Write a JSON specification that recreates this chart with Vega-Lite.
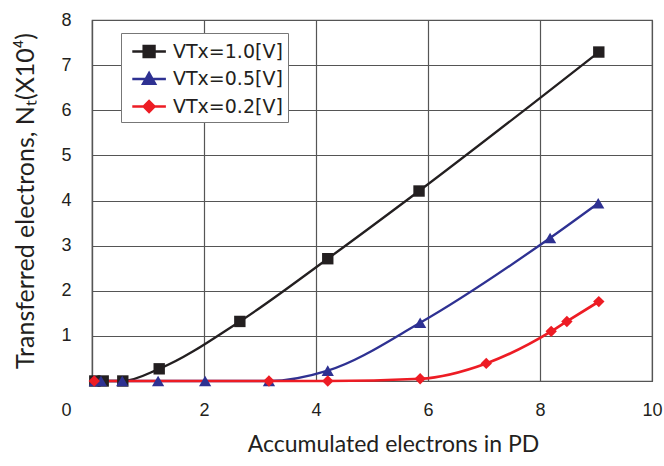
{
  "$schema": "https://vega.github.io/schema/vega-lite/v6.json",
  "width": 560,
  "height": 361,
  "autosize": "none",
  "padding": {"left": 92, "top": 20, "right": 12, "bottom": 85},
  "background": "white",
  "config": {
    "view": {"stroke": "#555555", "strokeWidth": 1.2},
    "axis": {
      "labelFont": "Liberation Sans",
      "labelFontSize": 18,
      "labelColor": "#231f20",
      "labelFlush": false,
      "titleFont": "Lato",
      "titleFontSize": 23,
      "titleFontWeight": "normal",
      "titleColor": "#231f20",
      "gridColor": "#555555",
      "gridOpacity": 1,
      "gridWidth": 1.2,
      "ticks": false,
      "domainColor": "#555555",
      "domainWidth": 1.2
    }
  },
  "data": {
    "values": [
      {"series": "VTx=1.0[V]", "x": 0.05, "y": 0},
      {"series": "VTx=1.0[V]", "x": 0.2, "y": 0},
      {"series": "VTx=1.0[V]", "x": 0.55, "y": 0},
      {"series": "VTx=1.0[V]", "x": 1.2, "y": 0.27},
      {"series": "VTx=1.0[V]", "x": 2.64, "y": 1.32},
      {"series": "VTx=1.0[V]", "x": 4.21, "y": 2.71},
      {"series": "VTx=1.0[V]", "x": 5.84, "y": 4.21},
      {"series": "VTx=1.0[V]", "x": 9.05, "y": 7.29},
      {"series": "VTx=0.5[V]", "x": 0.05, "y": 0},
      {"series": "VTx=0.5[V]", "x": 0.16, "y": 0},
      {"series": "VTx=0.5[V]", "x": 0.54, "y": 0},
      {"series": "VTx=0.5[V]", "x": 1.18, "y": 0},
      {"series": "VTx=0.5[V]", "x": 2.02, "y": 0},
      {"series": "VTx=0.5[V]", "x": 3.16, "y": 0},
      {"series": "VTx=0.5[V]", "x": 4.21, "y": 0.23},
      {"series": "VTx=0.5[V]", "x": 5.86, "y": 1.29},
      {"series": "VTx=0.5[V]", "x": 8.18, "y": 3.17},
      {"series": "VTx=0.5[V]", "x": 9.04, "y": 3.94},
      {"series": "VTx=0.2[V]", "x": 0.04, "y": 0},
      {"series": "VTx=0.2[V]", "x": 3.16, "y": 0},
      {"series": "VTx=0.2[V]", "x": 4.21, "y": 0},
      {"series": "VTx=0.2[V]", "x": 5.86, "y": 0.05},
      {"series": "VTx=0.2[V]", "x": 7.04, "y": 0.39},
      {"series": "VTx=0.2[V]", "x": 8.2, "y": 1.1},
      {"series": "VTx=0.2[V]", "x": 8.48, "y": 1.32},
      {"series": "VTx=0.2[V]", "x": 9.05, "y": 1.76}
    ]
  },
  "encoding": {
    "x": {
      "field": "x", "type": "quantitative",
      "scale": {"domain": [0, 10], "nice": false},
      "axis": {
        "values": [0, 2, 4, 6, 8, 10],
        "grid": true,
        "domain": false,
        "labelPadding": 20,
        "labelExpr": "datum.value == 0 ? '' : datum.label",
        "title": "Accumulated electrons in PD",
        "titlePadding": 14,
        "titleX": 301,
        "titleAnchor": "middle"
      }
    },
    "y": {
      "field": "y", "type": "quantitative",
      "scale": {"domain": [0, 8], "nice": false},
      "axis": {
        "values": [0, 1, 2, 3, 4, 5, 6, 7, 8],
        "grid": true,
        "labelPadding": 21,
        "labelOffset": {"condition": {"test": "datum.value == 0", "value": 29}, "value": 0},
        "title": "Transferred electrons, Nₜ(X10⁴)",
        "titleFontSize": 25,
        "titlePadding": 22
      }
    },
    "color": {
      "field": "series", "type": "nominal",
      "scale": {
        "domain": ["VTx=1.0[V]", "VTx=0.5[V]", "VTx=0.2[V]"],
        "range": ["#231f20", "#2e3192", "#ed1c24"]
      },
      "legend": {
        "title": null,
        "orient": "none",
        "legendX": 29,
        "legendY": 13,
        "padding": 5,
        "strokeColor": "#777777",
        "fillColor": "white",
        "symbolSize": 576,
        "labelFont": "DejaVu Sans",
        "labelFontSize": 19,
        "labelColor": "#231f20",
        "labelOffset": 20,
        "rowPadding": 3.5,
        "encode": {
          "symbols": {
            "update": {
              "shape": {"signal": "datum.value == 'VTx=1.0[V]' ? 'M-0.6,0H2.2M0.35,-0.45H1.25V0.45H0.35Z' : datum.value == 'VTx=0.5[V]' ? 'M-0.6,0H2.2M0.8,-0.5L1.3,0.4H0.3Z' : 'M-0.6,0H2.2M0.8,-0.45L1.25,0L0.8,0.45L0.35,0Z'"},
              "fill": {"signal": "datum.value == 'VTx=1.0[V]' ? '#231f20' : datum.value == 'VTx=0.5[V]' ? '#2e3192' : '#ed1c24'"},
              "stroke": {"signal": "datum.value == 'VTx=1.0[V]' ? '#231f20' : datum.value == 'VTx=0.5[V]' ? '#2e3192' : '#ed1c24'"},
              "strokeWidth": {"value": 2.5},
              "opacity": {"value": 1}
            }
          }
        }
      }
    }
  },
  "layer": [
    {
      "transform": [{"filter": "datum.series == 'VTx=1.0[V]'"}],
      "mark": {"type": "line", "interpolate": "monotone", "strokeWidth": 2.3}
    },
    {
      "transform": [{"filter": "datum.series == 'VTx=0.5[V]'"}],
      "mark": {"type": "line", "interpolate": "monotone", "strokeWidth": 2.3}
    },
    {
      "transform": [{"filter": "datum.series == 'VTx=0.2[V]'"}],
      "mark": {"type": "line", "interpolate": "monotone", "strokeWidth": 2.7}
    },
    {
      "transform": [{"filter": "datum.series == 'VTx=1.0[V]'"}],
      "mark": {"type": "point", "filled": true, "opacity": 1, "size": 130, "shape": "square"}
    },
    {
      "transform": [{"filter": "datum.series == 'VTx=0.5[V]'"}],
      "mark": {"type": "point", "filled": true, "opacity": 1, "size": 150, "shape": "triangle-up"}
    },
    {
      "transform": [{"filter": "datum.series == 'VTx=0.2[V]'"}],
      "mark": {"type": "point", "filled": true, "opacity": 1, "size": 130, "shape": "diamond"}
    }
  ]
}
